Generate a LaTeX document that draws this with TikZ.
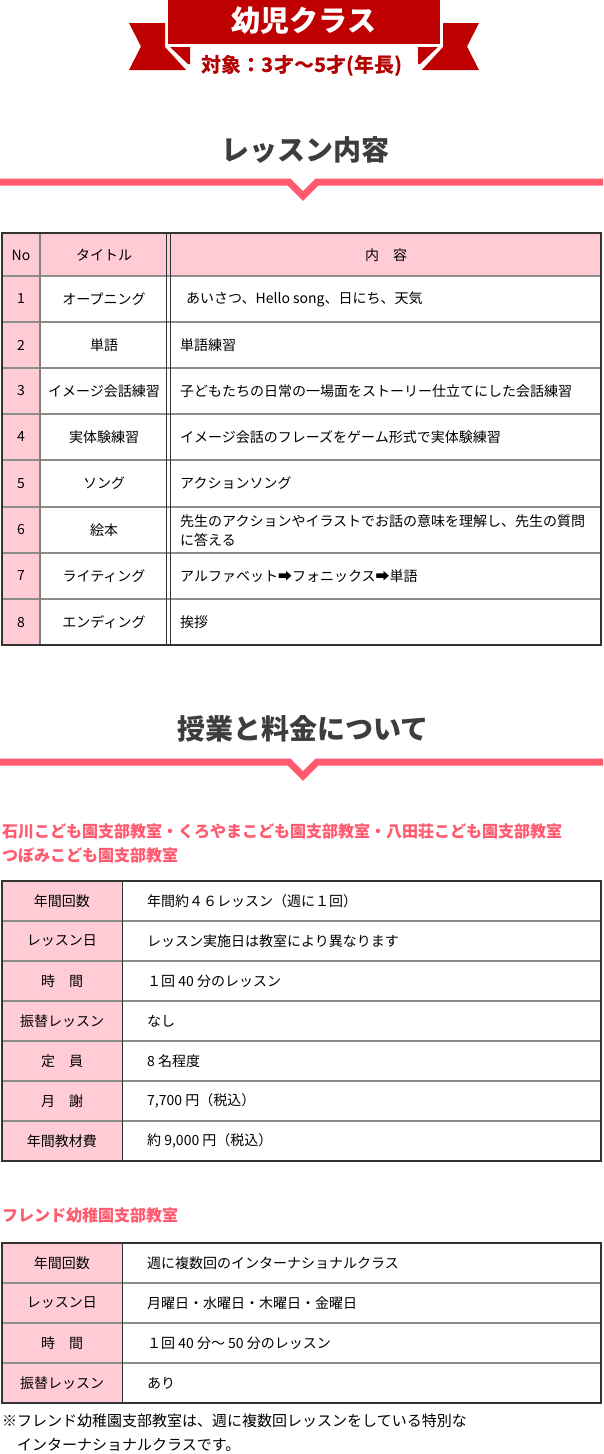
\documentclass[tikz,border=0pt]{standalone}
\usepackage{fontspec}
\setmainfont{Noto Sans CJK JP}
\definecolor{bannerred}{HTML}{BF0000}
\definecolor{subred}{HTML}{B30000}
\definecolor{pinkline}{HTML}{FF5A6E}
\definecolor{pinkfill}{HTML}{FFCCD5}
\definecolor{headgray}{HTML}{3D3D3D}
\definecolor{rowgray}{HTML}{8C8C8C}
\definecolor{bordergray}{HTML}{333333}
\tikzset{
  td/.style={font=\fontsize{14}{18}\selectfont, inner sep=0pt, text=black},
  tdl/.style={td, anchor=west},
  sechead/.style={font=\fontsize{28}{32}\selectfont\bfseries, text=headgray, inner sep=0pt},
  pinkhead/.style={font=\fontsize{16}{20}\selectfont\bfseries, text=pinkline, inner sep=0pt, anchor=west},
  divider/.style={draw=pinkline, line width=7pt, miter limit=10},
  rowline/.style={draw=rowgray, line width=1.3pt},
  outer/.style={draw=bordergray, line width=1.2pt},
  note/.style={font=\fontsize{15}{18}\selectfont, inner sep=0pt, anchor=west, text=black}
}
\begin{document}
\begin{tikzpicture}[x=1pt,y=-1pt]
\useasboundingbox (0,0) rectangle (603,1454);
\fill[white] (0,0) rectangle (603,1454);

% ---------- banner ----------
\fill[bannerred] (168,0) rectangle (440,44);
\fill[bannerred] (129,23) -- (165,23) -- (165,47) -- (186,70) -- (129,70) -- (141,46.5) -- cycle;
\fill[bannerred] (170,47) -- (190,47) -- (190,64) -- (188,64) -- cycle;
\fill[bannerred] (479,23) -- (443,23) -- (443,47) -- (422,70) -- (479,70) -- (467,46.5) -- cycle;
\fill[bannerred] (438,47) -- (418,47) -- (418,64) -- (420,64) -- cycle;
\node[font=\fontsize{29}{32}\selectfont\bfseries, text=white, inner sep=0pt] (bantitle) at (304,21) {幼児クラス};
\node[font=\fontsize{20}{22}\selectfont\bfseries, text=subred, inner sep=0pt] (bansub) at (302,66) {対象：3才〜5才(年長)};

% ---------- section 1 ----------
\node[sechead] (sec1) at (305,150) {レッスン内容};
\draw[divider] (0,182) -- (289,182) -- (303,196) -- (317,182) -- (603,182);

% table 1
\fill[pinkfill] (2,233) rectangle (601,276);
\fill[pinkfill] (2,276) rectangle (40,645);
\foreach \yy in {276,322,368,414,460,507,553,599} {
  \draw[rowline] (2,\yy) -- (601,\yy);
}
\draw[draw=gray, line width=1.6pt] (40,233) -- (40,645);
\draw[draw=bordergray, line width=0.9pt] (166.5,233) -- (166.5,645);
\draw[draw=bordergray, line width=0.9pt] (170,233) -- (170,645);
\draw[outer] (2,233) rectangle (601,645);

\node[td] (h1) at (21,255) {No};
\node[td] (h2) at (104,255) {タイトル};
\node[td] (h3) at (386,255) {内　容};

\node[td] (n1) at (21,299) {1};
\node[td] (t1) at (104,299) {オープニング};
\node[tdl] (c1) at (186,299) {あいさつ、Hello song、日にち、天気};

\node[td] (n2) at (21,345) {2};
\node[td] (t2) at (104,345) {単語};
\node[tdl] (c2) at (180,345) {単語練習};

\node[td] (n3) at (21,391) {3};
\node[td] (t3) at (104,391) {イメージ会話練習};
\node[tdl] (c3) at (180,391) {子どもたちの日常の一場面をストーリー仕立てにした会話練習};

\node[td] (n4) at (21,437) {4};
\node[td] (t4) at (104,437) {実体験練習};
\node[tdl] (c4) at (180,437) {イメージ会話のフレーズをゲーム形式で実体験練習};

\node[td] (n5) at (21,483.5) {5};
\node[td] (t5) at (104,483.5) {ソング};
\node[tdl] (c5) at (180,483.5) {アクションソング};

\node[td] (n6) at (21,530) {6};
\node[td] (t6) at (104,530) {絵本};
\node[tdl] (c6a) at (180,521) {先生のアクションやイラストでお話の意味を理解し、先生の質問};
\node[tdl] (c6b) at (180,540) {に答える};

\node[td] (n7) at (21,576) {7};
\node[td] (t7) at (104,576) {ライティング};
\node[tdl] (c7) at (180,576) {アルファベット➡フォニックス➡単語};

\node[td] (n8) at (21,622) {8};
\node[td] (t8) at (104,622) {エンディング};
\node[tdl] (c8) at (180,622) {挨拶};

% ---------- section 2 ----------
\node[sechead] (sec2) at (303,729) {授業と料金について};
\draw[divider] (0,762) -- (289,762) -- (303,776) -- (317,762) -- (603,762);

\node[pinkhead] (ph1) at (2,831) {石川こども園支部教室・くろやまこども園支部教室・八田荘こども園支部教室};
\node[pinkhead] (ph2) at (2,855) {つぼみこども園支部教室};

% table 2
\fill[pinkfill] (2,881) rectangle (122,1161);
\foreach \yy in {921,961,1001,1041,1081,1121} {
  \draw[rowline] (2,\yy) -- (601,\yy);
}
\draw[draw=bordergray, line width=1pt] (122,881) -- (122,1161);
\draw[outer] (2,881) rectangle (601,1161);

\node[td] (a1) at (62,901) {年間回数};
\node[tdl] (b1) at (147,901) {年間約４６レッスン（週に１回）};
\node[td] (a2) at (62,941) {レッスン日};
\node[tdl] (b2) at (147,941) {レッスン実施日は教室により異なります};
\node[td] (a3) at (62,981) {時　間};
\node[tdl] (b3) at (147,981) {１回 40 分のレッスン};
\node[td] (a4) at (62,1021) {振替レッスン};
\node[tdl] (b4) at (147,1021) {なし};
\node[td] (a5) at (62,1061) {定　員};
\node[tdl] (b5) at (147,1061) {8 名程度};
\node[td] (a6) at (62,1101) {月　謝};
\node[tdl] (b6) at (147,1101) {7,700 円（税込）};
\node[td] (a7) at (62,1141) {年間教材費};
\node[tdl] (b7) at (147,1141) {約 9,000 円（税込）};

% ---------- friend kindergarten ----------
\node[pinkhead] (ph3) at (2,1215) {フレンド幼稚園支部教室};

\fill[pinkfill] (2,1243) rectangle (122,1403);
\foreach \yy in {1283,1323,1363} {
  \draw[rowline] (2,\yy) -- (601,\yy);
}
\draw[draw=bordergray, line width=1pt] (122,1243) -- (122,1403);
\draw[outer] (2,1243) rectangle (601,1403);

\node[td] (d1) at (62,1263) {年間回数};
\node[tdl] (e1) at (147,1263) {週に複数回のインターナショナルクラス};
\node[td] (d2) at (62,1303) {レッスン日};
\node[tdl] (e2) at (147,1303) {月曜日・水曜日・木曜日・金曜日};
\node[td] (d3) at (62,1343) {時　間};
\node[tdl] (e3) at (147,1343) {１回 40 分～ 50 分のレッスン};
\node[td] (d4) at (62,1383) {振替レッスン};
\node[tdl] (e4) at (147,1383) {あり};

\node[note] (note1) at (2,1421) {※フレンド幼稚園支部教室は、週に複数回レッスンをしている特別な};
\node[note] (note2) at (2,1445) {　インターナショナルクラスです。};
\end{tikzpicture}
\end{document}
